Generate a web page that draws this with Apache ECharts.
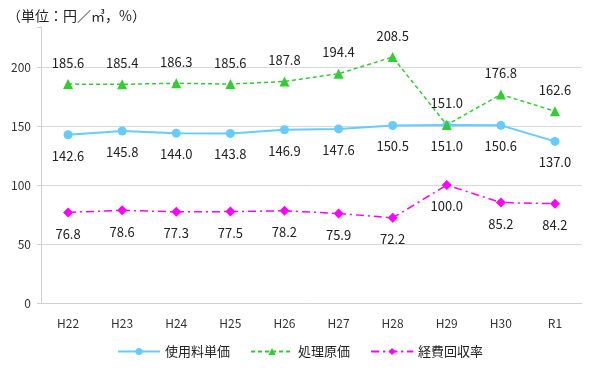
<!DOCTYPE html>
<html><head><meta charset="utf-8">
<script src="https://cdn.jsdelivr.net/npm/echarts@6/dist/echarts.min.js"></script>
<style>html,body{margin:0;padding:0;background:#fff}#c{width:600px;height:375px}</style>
</head><body><div id="c"></div>
<script>
const categories = ['H22','H23','H24','H25','H26','H27','H28','H29','H30','R1'];
const usageFee = [142.6,145.8,144.0,143.8,146.9,147.6,150.5,151.0,150.6,137.0];
const treatCost = [185.6,185.4,186.3,185.6,187.8,194.4,208.5,151.0,176.8,162.6];
const recoveryRate = [76.8,78.6,77.3,77.5,78.2,75.9,72.2,100.0,85.2,84.2];
const yTicks = [0,50,100,150,200];

const FONT = '"Noto Sans CJK JP", "Noto Sans", sans-serif';
const chart = echarts.init(document.getElementById('c'));
const lbl = (pos) => ({show:true, position:pos, distance:10, color:'#222', fontSize:13, fontFamily:FONT, formatter:p=>p.value.toFixed(1)});
chart.setOption({
  animation:false,
  textStyle:{fontFamily:FONT},
  title:{text:'（単位：円／㎥，%）', left:2, top:4, textStyle:{fontSize:14, fontWeight:'normal', color:'#222', fontFamily:FONT}},
  grid:{left:41, right:18, top:27, bottom:72},
  legend:{bottom:12, left:'center', itemWidth:42, itemHeight:9, itemGap:20, textStyle:{fontSize:13, color:'#222', fontFamily:FONT},
    data:['使用料単価','処理原価','経費回収率']},
  xAxis:{type:'category', data:categories, boundaryGap:true,
    axisLine:{lineStyle:{color:'#d0d0d0'}}, axisTick:{show:false},
    axisLabel:{color:'#333', fontSize:12, margin:14}},
  yAxis:{type:'value', min:0, max:234, interval:50,
    axisLine:{show:true, lineStyle:{color:'#d0d0d0'}},
    axisTick:{show:true, length:4, lineStyle:{color:'#d0d0d0'}},
    axisLabel:{color:'#333', fontSize:12, margin:10, formatter:v=> yTicks.includes(v)? String(v):''},
    splitLine:{show:true, lineStyle:{color:['#d9d9d9','#d9d9d9','#d9d9d9','#d9d9d9','#d9d9d9','rgba(0,0,0,0)']}}},
  series:[
    {name:'使用料単価', type:'line', data:usageFee, symbol:'circle', symbolSize:9,
      itemStyle:{color:'#66ccff'}, lineStyle:{color:'#66ccff', width:2}, label:lbl('bottom')},
    {name:'処理原価', type:'line', data:treatCost, symbol:'triangle', symbolSize:10,
      itemStyle:{color:'#33cc33'}, lineStyle:{color:'#33cc33', width:1.5, type:[4,3]}, label:lbl('top')},
    {name:'経費回収率', type:'line', data:recoveryRate, symbol:'diamond', symbolSize:10,
      itemStyle:{color:'#ff00ff'}, lineStyle:{color:'#ff00ff', width:1.5, type:[8,4,2,4]}, label:lbl('bottom')}
  ]
});
</script></body></html>
